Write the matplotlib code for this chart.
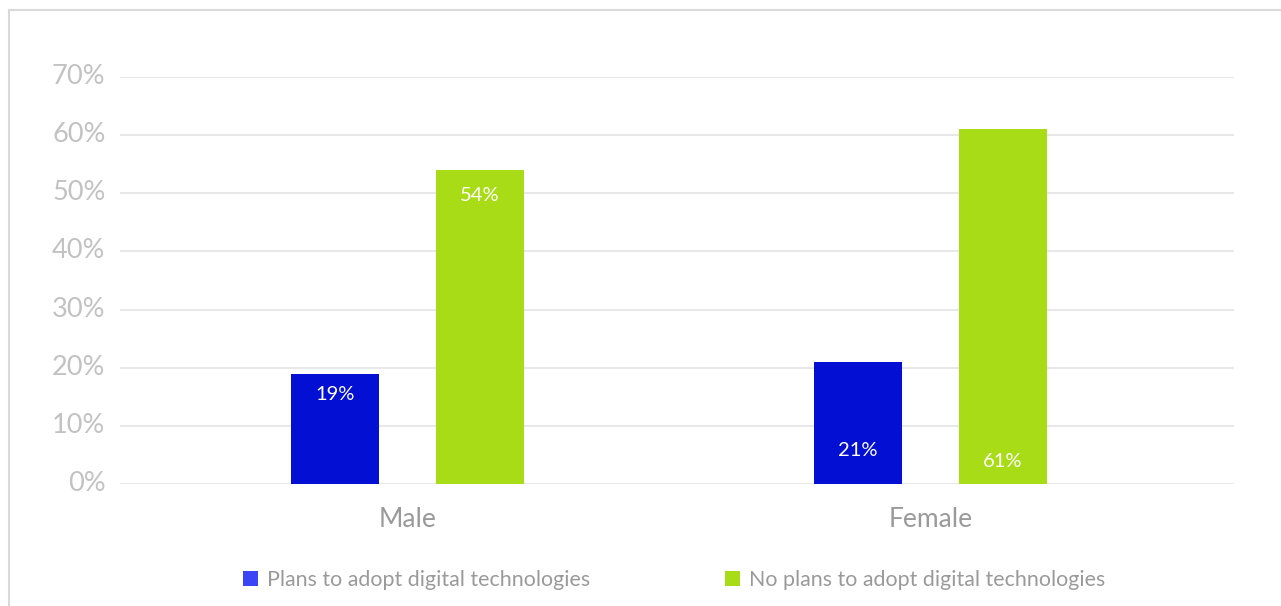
import matplotlib
matplotlib.use("Agg")
import matplotlib.pyplot as plt
import matplotlib.transforms as mtransforms
from matplotlib.patches import Patch
from matplotlib.lines import Line2D
from matplotlib.ticker import FuncFormatter

# Data
genders = ["Male", "Female"]
series_names = ["Plans to adopt digital technologies", "No plans to adopt digital technologies"]
plans = [19, 21]
no_plans = [54, 61]
y_ticks = [0, 10, 20, 30, 40, 50, 60, 70]

# Styling
bar_colors = ["#0310d4", "#a8dc17"]
legend_colors = ["#3a45f6", "#a8dc17"]
grid_color = "#e8e8e8"
tick_color = "#c2c2c2"
text_gray = "#9a9a9a"
font = "Lato"

DPI = 100
fig = plt.figure(figsize=(12.81, 6.06), dpi=DPI)
ax = fig.add_axes([120 / 1281, 1 - 484 / 606, 1114 / 1281, 407 / 606])

x = range(len(genders))
width = 0.168
offset = 0.1386
b1 = ax.bar([i - offset for i in x], plans, width, color=bar_colors[0], zorder=3)
b2 = ax.bar([i + offset for i in x], no_plans, width, color=bar_colors[1], zorder=3)

# value labels: distance (pixels) below each bar top
drops = {0: [21, 89], 1: [25, 332]}
for s, bars in enumerate([b1, b2]):
    for j, rect in enumerate(bars):
        h = rect.get_height()
        ax.annotate(f"{h:g}%", (rect.get_x() + rect.get_width() / 2, h),
                    xytext=(0, -drops[s][j] * 72 / DPI), textcoords="offset points",
                    ha="center", va="center", color="white", fontsize=14.5,
                    family=font, zorder=4)

ax.set_xlim(-0.5497, 1.580)
ax.set_ylim(0, 70)
ax.set_yticks(y_ticks)
ax.yaxis.set_major_formatter(FuncFormatter(lambda v, p: f"{v:.0f}%"))
ax.set_xticks(list(x))
ax.set_xticklabels(genders)
ax.grid(axis="y", color=grid_color, linewidth=1.5, zorder=0)
ax.set_axisbelow(True)
for sp in ax.spines.values():
    sp.set_visible(False)
ax.tick_params(axis="y", length=0, pad=10.5, labelsize=19.5, labelcolor=tick_color)
ax.tick_params(axis="x", length=0, pad=16.5, labelsize=19, labelcolor=text_gray)
for lab in ax.get_xticklabels() + ax.get_yticklabels():
    lab.set_family(font)

# lift y tick labels slightly above their gridlines
lift = mtransforms.ScaledTranslation(0, 3 / DPI, fig.dpi_scale_trans)
for lab in ax.get_yticklabels():
    lab.set_transform(lab.get_transform() + lift)

# legend
handles = [Patch(facecolor=c, edgecolor="none") for c in legend_colors]
leg = fig.legend(handles, series_names, loc="center", bbox_to_anchor=(674 / 1281, 1 - 580 / 606),
                 ncol=2, frameon=False, handlelength=0.72, handleheight=0.72,
                 handletextpad=0.4, columnspacing=6.3,
                 prop={"family": font, "size": 15.4})
for t in leg.get_texts():
    t.set_color(text_gray)

# frame lines on top and left
fig.add_artist(Line2D([8.5 / 1281, 8.5 / 1281], [0, 1 - 10 / 606], transform=fig.transFigure,
                      color="#d9d9d9", linewidth=1.5))
fig.add_artist(Line2D([8.5 / 1281, 1], [1 - 10 / 606, 1 - 10 / 606], transform=fig.transFigure,
                      color="#d9d9d9", linewidth=1.5))

fig.savefig("out.png", dpi=DPI, facecolor="white")
